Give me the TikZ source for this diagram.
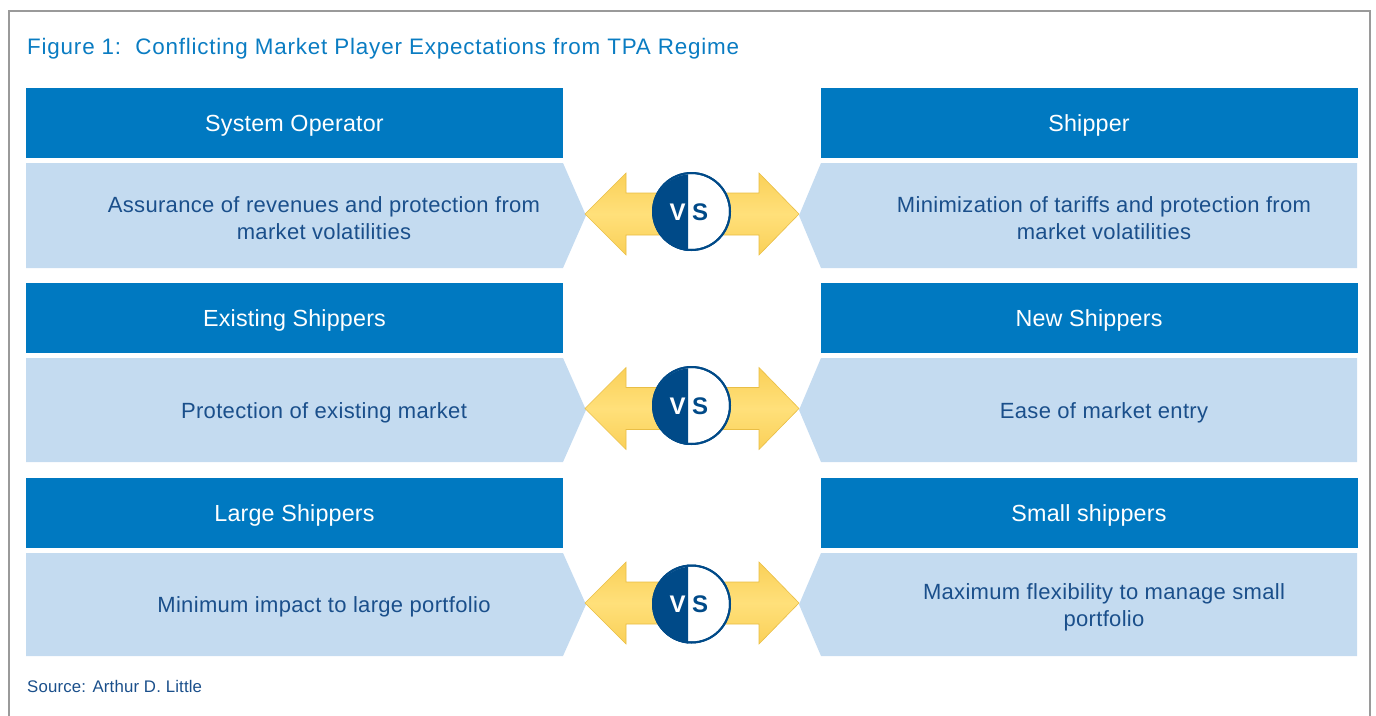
\documentclass[tikz,border=0pt]{standalone}
\usepackage{fontspec}
\setmainfont{Liberation Sans}
\definecolor{hdr}{HTML}{0079C1}
\definecolor{bodyfill}{HTML}{C4DBF0}
\definecolor{bodytext}{HTML}{1A4F8B}
\definecolor{titleblue}{HTML}{0A7CC2}
\definecolor{vsblue}{HTML}{004A88}
\definecolor{arrowmid}{HTML}{FFE07A}
\definecolor{arrowedge}{HTML}{FAD058}
\definecolor{arrowline}{HTML}{E9BE45}
\definecolor{framegray}{HTML}{9A9A9A}
\begin{document}
\begin{tikzpicture}[x=1pt,y=-1pt,
  hdrbox/.style={fill=hdr, text=white, minimum width=537pt, minimum height=70pt,
    inner sep=0pt, text height=17pt, text depth=0pt,
    font=\addfontfeature{LetterSpace=0.8}\fontsize{23.3}{27}\selectfont},
  bodytxt/.style={text=bodytext, align=center, yshift=-2.5pt,
    font=\addfontfeature{LetterSpace=1.5}\fontsize{22}{27}\selectfont},
  bodyshape/.style={fill=bodyfill},
  vsarrow/.style={top color=arrowedge, bottom color=arrowedge, middle color=arrowmid,
    draw=arrowline, line width=0.6pt},
  vsdisc/.style={circle, minimum size=77pt, inner sep=0pt, draw=vsblue, line width=2pt, fill=white},
  vsletter/.style={font=\fontsize{24}{24}\selectfont\bfseries, inner sep=0pt, anchor=base}
]
\useasboundingbox (0,0) rectangle (1376,715);

% outer frame
\draw[framegray, line width=2pt] (9,716) -- (9,11) -- (1370,11) -- (1370,716);

% title and source
\node[anchor=base west, text=titleblue, inner sep=0pt,
  font=\addfontfeature{LetterSpace=3.6}\fontsize{22.4}{26}\selectfont]
  (title) at (27,54) {Figure 1:\ \ Conflicting Market Player Expectations from TPA Regime};
\node[anchor=base west, text=bodytext, inner sep=0pt,
  font=\addfontfeature{LetterSpace=1}\fontsize{16.8}{20}\selectfont]
  (source) at (27,692) {Source: Arthur D. Little};

% one row: #1 header top, #2 body top, #3 body bottom, #4 left head, #5 right head,
% #6 left body, #7 right body, #8 row id, #9 disc centre
\newcommand{\vsrow}[9]{%
  \node[hdrbox] (lh#8) at (294.5,{#1+35}) {#4};
  \node[hdrbox] (rh#8) at (1089,{#1+35}) {#5};
  \fill[bodyshape] (26,#2) -- (563,#2) -- (586,{(#2+#3)/2}) -- (563,#3) -- (26,#3) -- cycle;
  \fill[bodyshape] (1357,#2) -- (821,#2) -- (799,{(#2+#3)/2}) -- (821,#3) -- (1357,#3) -- cycle;
  \node[bodytxt] (lb#8) at (324,{(#2+#3)/2}) {#6};
  \node[bodytxt] (rb#8) at (1104,{(#2+#3)/2}) {#7};
  \coordinate (m#8) at (692,{(#2+#3)/2-1.5});
  \shade[vsarrow] ([xshift=-107pt]m#8) -- ([xshift=-66pt,yshift=41pt]m#8)
    -- ([xshift=-66pt,yshift=21pt]m#8) -- ([xshift=67pt,yshift=21pt]m#8)
    -- ([xshift=67pt,yshift=41pt]m#8) -- ([xshift=107pt]m#8)
    -- ([xshift=67pt,yshift=-41pt]m#8) -- ([xshift=67pt,yshift=-21pt]m#8)
    -- ([xshift=-66pt,yshift=-21pt]m#8) -- ([xshift=-66pt,yshift=-41pt]m#8) -- cycle;
  \node[vsdisc] (vs#8) at (691.5,#9) {};
  \fill[vsblue] ([xshift=-3.5pt]vs#8.north) -- ([xshift=-3.5pt]vs#8.south)
    arc[start angle=-95.2, end angle=-264.8, radius=38.5pt] -- cycle;
  \draw[vsblue, line width=2pt] (vs#8) circle[radius=38.5pt];
  \node[vsletter, text=white] (v#8) at ([xshift=-14pt,yshift=-8.5pt]vs#8.center) {V};
  \node[vsletter, text=vsblue] (s#8) at ([xshift=8.5pt,yshift=-8.5pt]vs#8.center) {S};
}

\vsrow{88}{163}{268}{System Operator}{Shipper}
  {Assurance of revenues and protection from\\market volatilities}
  {Minimization of tariffs and protection from\\market volatilities}{a}{211.5}
\vsrow{283}{358}{462}{Existing Shippers}{New Shippers}
  {Protection of existing market}{Ease of market entry}{b}{405.5}
\vsrow{478}{553}{656}{Large Shippers}{Small shippers}
  {Minimum impact to large portfolio}
  {Maximum flexibility to manage small\\portfolio}{c}{604}
\end{tikzpicture}
\end{document}
